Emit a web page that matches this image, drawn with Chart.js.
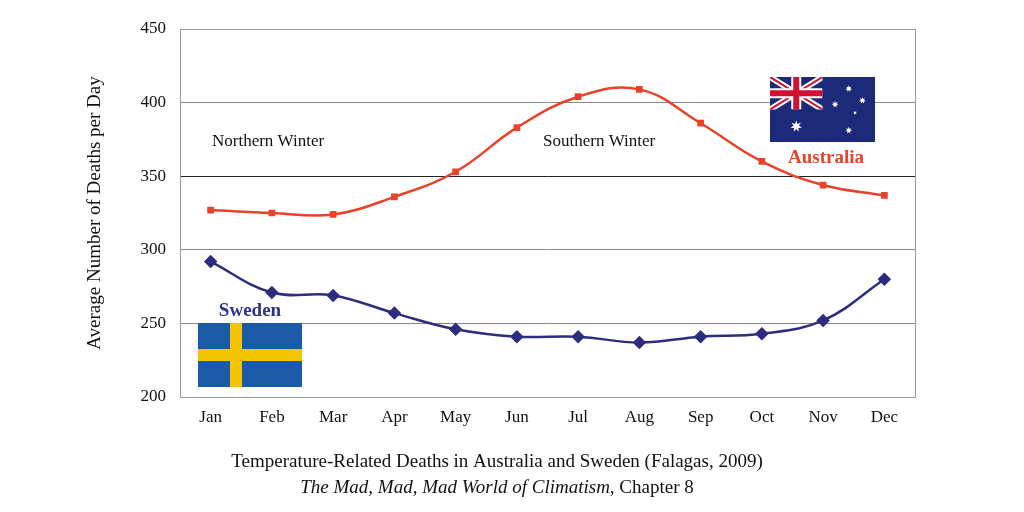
<!DOCTYPE html>
<html><head><meta charset="utf-8">
<script src="https://cdn.jsdelivr.net/npm/chart.js@4"></script>
<style>html,body{margin:0;background:#fff}#c{display:block}</style>
</head><body>
<canvas id="c" width="1024" height="512"></canvas>
<script>
const months = ['Jan','Feb','Mar','Apr','May','Jun','Jul','Aug','Sep','Oct','Nov','Dec'];
const australia = [327,325,324,336,353,383,404,409,386,360,344,337];
const sweden = [292,271,269,257,246,241,241,237,241,243,252,280];
const yTicks = [200,250,300,350,400,450];

const serif = '"Liberation Serif", "DejaVu Serif", serif';

function star(ctx, cx, cy, r) {
  ctx.beginPath();
  for (let i = 0; i < 14; i++) {
    const a = -Math.PI/2 + i*Math.PI/7;
    const rr = i%2===0 ? r : r*0.45;
    ctx.lineTo(cx + rr*Math.cos(a), cy + rr*Math.sin(a));
  }
  ctx.closePath(); ctx.fill();
}

const deco = {
  id: 'deco',
  afterDraw(chart) {
    const ctx = chart.ctx;
    ctx.save();
    ctx.textBaseline = 'middle';
    ctx.fillStyle = '#111';
    ctx.font = '17px ' + serif;
    ctx.textAlign = 'left';
    ctx.fillText('Northern Winter', 212, 142);
    ctx.fillText('Southern Winter', 543, 142);
    ctx.textAlign = 'center';
    ctx.font = '19px ' + serif;
    ctx.fillText('Temperature-Related Deaths in Australia and Sweden (Falagas, 2009)', 497, 462);
    ctx.font = 'italic 19px ' + serif;
    const t1 = 'The Mad, Mad, Mad World of Climatism';
    ctx.font = '19px ' + serif;
    const t2 = ', Chapter 8';
    const w2 = ctx.measureText(t2).width;
    ctx.font = 'italic 19px ' + serif;
    const w1 = ctx.measureText(t1).width;
    const x0 = 497 - (w1 + w2)/2;
    ctx.textAlign = 'left';
    ctx.fillText(t1, x0, 488);
    ctx.font = '19px ' + serif;
    ctx.fillText(t2, x0 + w1, 488);
    // labels
    ctx.font = 'bold 19px ' + serif;
    ctx.fillStyle = '#e8432a';
    ctx.textAlign = 'center';
    ctx.fillText('Australia', 826, 158);
    ctx.fillStyle = '#2e3192';
    ctx.fillText('Sweden', 250, 311);
    // Sweden flag
    ctx.fillStyle = '#1b5aa6';
    ctx.fillRect(198, 323, 104, 64);
    ctx.fillStyle = '#f5c400';
    ctx.fillRect(230, 323, 12, 64);
    ctx.fillRect(198, 349, 104, 12);
    // Australia flag
    const fx = 770, fy = 77, fw = 105, fh = 65;
    ctx.fillStyle = '#1d2a7a';
    ctx.fillRect(fx, fy, fw, fh);
    const uw = fw/2, uh = fh/2;
    ctx.save();
    ctx.beginPath(); ctx.rect(fx, fy, uw, uh); ctx.clip();
    ctx.strokeStyle = '#fff'; ctx.lineWidth = 6;
    ctx.beginPath(); ctx.moveTo(fx, fy); ctx.lineTo(fx+uw, fy+uh); ctx.moveTo(fx+uw, fy); ctx.lineTo(fx, fy+uh); ctx.stroke();
    ctx.strokeStyle = '#d21034'; ctx.lineWidth = 2;
    ctx.stroke();
    ctx.fillStyle = '#fff';
    ctx.fillRect(fx+uw/2-5, fy, 10, uh);
    ctx.fillRect(fx, fy+uh/2-5, uw, 10);
    ctx.fillStyle = '#d21034';
    ctx.fillRect(fx+uw/2-3, fy, 6, uh);
    ctx.fillRect(fx, fy+uh/2-3, uw, 6);
    ctx.restore();
    ctx.fillStyle = '#fff';
    star(ctx, fx+uw/2, fy+fh*0.76, 6);
    star(ctx, fx+fw*0.75, fy+fh*0.18, 3.5);
    star(ctx, fx+fw*0.62, fy+fh*0.42, 3.5);
    star(ctx, fx+fw*0.88, fy+fh*0.36, 3.5);
    star(ctx, fx+fw*0.75, fy+fh*0.82, 3.5);
    star(ctx, fx+fw*0.81, fy+fh*0.55, 2);
    // plot border
    const a = chart.chartArea;
    ctx.strokeStyle = '#999'; ctx.lineWidth = 1;
    ctx.strokeRect(a.left+0.5, a.top+0.5, a.right-a.left, a.bottom-a.top);
    ctx.restore();
  }
};

new Chart(document.getElementById('c'), {
  type: 'line',
  data: {
    labels: months,
    datasets: [
      { label: 'Australia', data: australia, borderColor: '#e8432a', backgroundColor: '#e8432a',
        borderWidth: 2.5, tension: 0.4, pointStyle: 'rect', pointRadius: 3 },
      { label: 'Sweden', data: sweden, borderColor: '#2e2c7f', backgroundColor: '#2e2c7f',
        borderWidth: 2.5, tension: 0.4, pointStyle: 'rectRot', pointRadius: 5 }
    ]
  },
  options: {
    responsive: false, animation: false, devicePixelRatio: 1,
    layout: { padding: { left: 80, right: 109, top: 29, bottom: 75 } },
    plugins: { legend: { display: false }, tooltip: { enabled: false } },
    scales: {
      x: {
        offset: true,
        grid: { display: false, drawTicks: false },
        border: { display: false },
        ticks: { color: '#111', font: { family: serif, size: 17 }, padding: 10 },
        afterFit(s) { s.height = 40; }
      },
      y: {
        min: 200, max: 450,
        afterBuildTicks(s) { s.ticks = yTicks.map(v => ({ value: v })); },
        grid: { color: c => c.tick.value === 350 ? '#222' : '#888', drawTicks: false, lineWidth: 1 },
        border: { display: false },
        ticks: { color: '#111', font: { family: serif, size: 17 }, padding: 14 },
        title: { display: true, text: 'Average Number of Deaths per Day', color: '#111',
                 font: { family: serif, size: 19 } },
        afterFit(s) { s.width = 100; }
      }
    }
  },
  plugins: [deco]
});
</script>
</body></html>
